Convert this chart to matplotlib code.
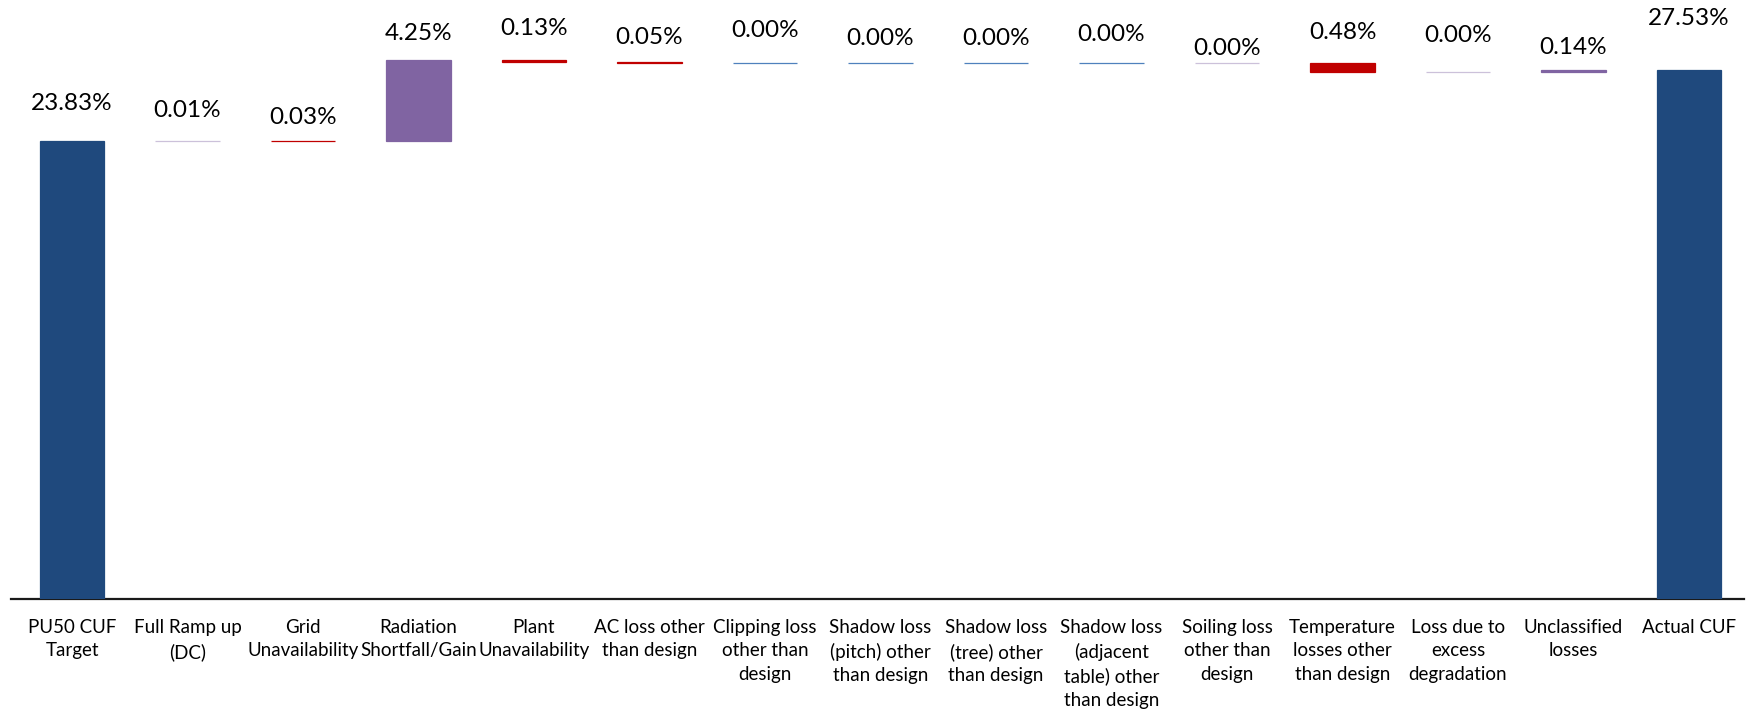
import matplotlib
matplotlib.use("Agg")
import matplotlib.pyplot as plt

categories = ["PU50 CUF\nTarget", "Full Ramp up\n(DC)", "Grid\nUnavailability",
              "Radiation\nShortfall/Gain", "Plant\nUnavailability", "AC loss other\nthan design",
              "Clipping loss\nother than\ndesign", "Shadow loss\n(pitch) other\nthan design",
              "Shadow loss\n(tree) other\nthan design", "Shadow loss\n(adjacent\ntable) other\nthan design",
              "Soiling loss\nother than\ndesign", "Temperature\nlosses other\nthan design",
              "Loss due to\nexcess\ndegradation", "Unclassified\nlosses", "Actual CUF"]
values = [23.83, 0.01, 0.03, 4.25, 0.13, 0.05, 0.00, 0.00, 0.00, 0.00, 0.00, 0.48, 0.00, 0.14, 27.53]
# step kind: total, gain, loss or zero
kinds = ["total", "gain", "loss", "gain", "loss", "loss", "zero", "zero", "zero", "zero",
         "zero", "loss", "zero", "gain", "total"]

colors = ["#1F497D", "#CCC1DA", "#C00000", "#8064A2", "#C00000", "#C00000", "#4F81BD", "#4F81BD",
          "#4F81BD", "#4F81BD", "#CCC1DA", "#C00000", "#CCC1DA", "#8064A2", "#1F497D"]
label_offset_px = [37, 30, 23, 26, 31, 25, 33, 25, 25, 29, 15, 31, 37, 22, 51]

W, H = 1757, 710
fig = plt.figure(figsize=(W / 100, H / 100), dpi=100)
left_px, right_px, base_px = 14.25, 1746.75, 599
ax = fig.add_axes([left_px / W, (H - base_px) / H, (right_px - left_px) / W, base_px / H])

running = 0.0
bottoms, heights = [], []
for v, k in zip(values, kinds):
    if k == "total":
        bottoms.append(0.0); heights.append(v); running = v
    elif k == "gain":
        bottoms.append(running); heights.append(v); running += v
    elif k == "loss":
        running -= v
        bottoms.append(running); heights.append(v)
    else:
        bottoms.append(running); heights.append(v)

x = list(range(len(categories)))
ax.bar(x, heights, bottom=bottoms, width=0.555, color=colors, edgecolor=colors, linewidth=0.9, zorder=3)

for i, (b, h, v) in enumerate(zip(bottoms, heights, values)):
    ax.annotate(f"{v:.2f}%", xy=(i, b + h), xytext=(0, label_offset_px[i]), textcoords="offset pixels",
                ha="center", va="center", fontsize=17.5, family=["Lato", "DejaVu Sans"],
                color="#000000")

ax.set_xlim(-0.5, len(categories) - 0.5)
ax.set_ylim(0, base_px / 19.22)
ax.set_xticks(x)
ax.set_xticklabels(categories, fontsize=13.5, family=["Lato", "DejaVu Sans"],
                   linespacing=1.45, va="top")
ax.tick_params(axis="x", length=0, pad=14.5)
ax.set_yticks([])
for s in ["top", "right", "left"]:
    ax.spines[s].set_visible(False)
ax.spines["bottom"].set_linewidth(1.6)
ax.spines["bottom"].set_color("#1a1a1a")
ax.spines["bottom"].set_bounds(-0.53, len(categories) - 0.52)

fig.savefig("out.png", dpi=100)
